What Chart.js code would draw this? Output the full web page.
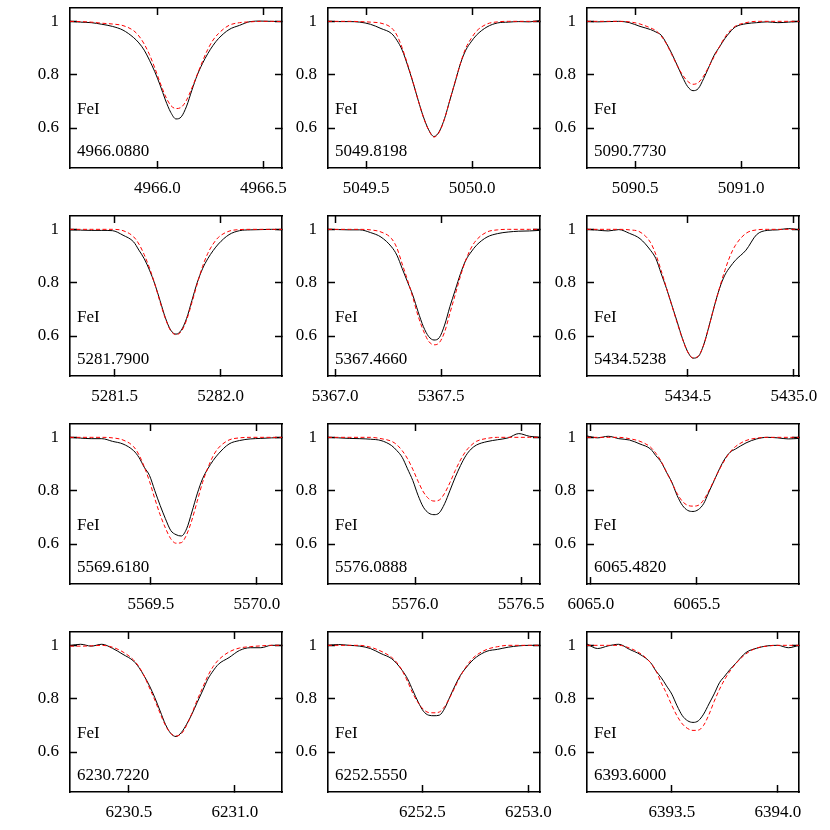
<!DOCTYPE html>
<html lang="en">
<head>
<meta charset="UTF-8">
<title>FeI line profiles</title>
<script src="https://cdn.jsdelivr.net/npm/chart.js"></script>
<style>
  html, body { margin: 0; padding: 0; background: #fff; overflow: hidden; }
  #grid { position: relative; width: 830px; height: 830px; }
  #grid canvas { position: absolute; }
</style>
</head>
<body>
<div id="grid"></div>
<script>
// wavelength offsets from the line centre (Angstrom), shared by every panel
const offsets = [-0.5, -0.45, -0.4, -0.35, -0.3, -0.25, -0.2, -0.175, -0.15, -0.125, -0.1, -0.075, -0.05, -0.025,
  0, 0.025, 0.05, 0.075, 0.1, 0.125, 0.15, 0.175, 0.2, 0.25, 0.3, 0.35, 0.4, 0.45, 0.5];

const centers = [4966.0880, 5049.8198, 5090.7730, 5281.7900, 5367.4660, 5434.5238,
  5569.6180, 5576.0888, 6065.4820, 6230.7220, 6252.5550, 6393.6000];
const ion = 'FeI';

const xTicks = [[4966.0, 4966.5], [5049.5, 5050.0], [5090.5, 5091.0], [5281.5, 5282.0],
  [5367.0, 5367.5], [5434.5, 5435.0], [5569.5, 5570.0], [5576.0, 5576.5],
  [6065.0, 6065.5], [6230.5, 6231.0], [6252.5, 6253.0], [6393.5, 6394.0]];
const yTicks = [0.6, 0.8, 1.0];
const yTickLabels = ['0.6', '0.8', '1'];

// observed spectrum (black)
const obs4966 = [1.0, 0.997, 0.995, 0.989, 0.981, 0.967, 0.939, 0.919, 0.892, 0.854, 0.811, 0.761, 0.705, 0.659, 0.634, 0.642, 0.682, 0.742, 0.798, 0.842, 0.879, 0.91, 0.935, 0.969, 0.985, 0.999, 1.001, 1.0, 0.999];
const obs5049 = [1.0, 0.999, 0.999, 0.997, 0.989, 0.973, 0.954, 0.929, 0.892, 0.836, 0.773, 0.705, 0.642, 0.593, 0.568, 0.587, 0.636, 0.705, 0.773, 0.842, 0.892, 0.923, 0.948, 0.979, 0.994, 0.997, 0.999, 0.998, 1.003];
const obs5090 = [1.0, 0.998, 0.999, 1.0, 0.995, 0.981, 0.969, 0.96, 0.948, 0.917, 0.879, 0.836, 0.792, 0.755, 0.74, 0.748, 0.785, 0.829, 0.873, 0.904, 0.935, 0.96, 0.979, 0.991, 0.995, 0.998, 0.995, 0.997, 1.0];
const obs5281 = [0.998, 0.997, 0.996, 0.996, 0.995, 0.978, 0.953, 0.922, 0.89, 0.847, 0.795, 0.732, 0.668, 0.622, 0.607, 0.622, 0.666, 0.733, 0.8, 0.852, 0.89, 0.92, 0.945, 0.98, 0.995, 0.998, 0.999, 1.0, 0.998];
const obs5367 = [1.0, 0.999, 0.998, 0.998, 0.988, 0.971, 0.934, 0.903, 0.853, 0.803, 0.753, 0.691, 0.635, 0.598, 0.585, 0.594, 0.641, 0.71, 0.772, 0.834, 0.884, 0.915, 0.94, 0.971, 0.984, 0.99, 0.993, 0.994, 0.996];
const obs5434 = [1.0, 0.997, 0.994, 0.999, 0.985, 0.965, 0.921, 0.89, 0.834, 0.778, 0.716, 0.654, 0.591, 0.541, 0.517, 0.523, 0.566, 0.635, 0.71, 0.778, 0.828, 0.859, 0.884, 0.922, 0.98, 0.996, 0.998, 1.003, 0.998];
const obs5569 = [1.0, 0.997, 0.995, 0.995, 0.985, 0.975, 0.95, 0.925, 0.888, 0.857, 0.8, 0.745, 0.695, 0.651, 0.635, 0.63, 0.657, 0.72, 0.788, 0.844, 0.882, 0.913, 0.938, 0.975, 0.988, 0.994, 0.996, 0.998, 0.999];
const obs5576 = [1.0, 0.998, 0.996, 0.995, 0.993, 0.988, 0.969, 0.95, 0.925, 0.882, 0.838, 0.782, 0.738, 0.716, 0.71, 0.717, 0.751, 0.8, 0.85, 0.894, 0.931, 0.956, 0.971, 0.984, 0.991, 0.998, 1.014, 1.004, 1.0];
const obs6065 = [1.005, 0.998, 1.004, 0.995, 0.99, 0.975, 0.956, 0.931, 0.907, 0.869, 0.832, 0.782, 0.745, 0.726, 0.722, 0.729, 0.751, 0.795, 0.838, 0.882, 0.919, 0.944, 0.956, 0.979, 0.994, 1.0, 0.998, 0.994, 0.996];
const obs6230 = [0.999, 1.004, 0.997, 1.004, 0.989, 0.966, 0.941, 0.917, 0.885, 0.848, 0.804, 0.754, 0.704, 0.67, 0.658, 0.673, 0.704, 0.742, 0.786, 0.829, 0.873, 0.904, 0.929, 0.954, 0.981, 0.991, 0.991, 1.0, 1.0];
const obs6252 = [1.0, 1.003, 1.0, 0.997, 0.988, 0.969, 0.95, 0.931, 0.906, 0.875, 0.831, 0.788, 0.753, 0.738, 0.736, 0.738, 0.763, 0.807, 0.85, 0.888, 0.915, 0.938, 0.956, 0.978, 0.985, 0.993, 0.998, 1.0, 1.0];
const obs6393 = [1.005, 0.988, 0.998, 1.004, 0.985, 0.966, 0.935, 0.904, 0.879, 0.848, 0.817, 0.773, 0.736, 0.717, 0.711, 0.717, 0.742, 0.78, 0.818, 0.86, 0.885, 0.91, 0.931, 0.973, 0.989, 0.998, 1.0, 0.991, 1.0];

// synthetic fit (red dashed)
const fit4966 = [1.0, 0.999, 0.997, 0.993, 0.99, 0.984, 0.965, 0.945, 0.915, 0.875, 0.825, 0.77, 0.72, 0.685, 0.673, 0.678, 0.705, 0.75, 0.8, 0.85, 0.895, 0.93, 0.954, 0.985, 0.995, 0.998, 1.0, 1.0, 0.999];
const fit5049 = [1.0, 1.0, 1.0, 0.999, 0.997, 0.993, 0.975, 0.948, 0.9, 0.84, 0.775, 0.705, 0.64, 0.592, 0.566, 0.585, 0.635, 0.705, 0.775, 0.843, 0.9, 0.935, 0.963, 0.99, 0.998, 1.0, 1.0, 1.0, 1.0];
const fit5090 = [1.0, 1.0, 1.0, 1.0, 0.998, 0.99, 0.975, 0.965, 0.945, 0.915, 0.875, 0.835, 0.8, 0.775, 0.764, 0.77, 0.795, 0.83, 0.868, 0.905, 0.94, 0.965, 0.982, 0.995, 1.0, 1.0, 1.0, 1.0, 1.0];
const fit5281 = [1.0, 1.0, 1.0, 1.0, 1.0, 0.995, 0.972, 0.945, 0.905, 0.855, 0.795, 0.727, 0.665, 0.62, 0.605, 0.617, 0.66, 0.725, 0.795, 0.86, 0.91, 0.945, 0.97, 0.993, 0.999, 1.0, 1.0, 1.0, 1.0];
const fit5367 = [1.0, 1.0, 1.0, 1.0, 0.998, 0.99, 0.965, 0.93, 0.87, 0.81, 0.745, 0.675, 0.62, 0.58, 0.567, 0.575, 0.615, 0.685, 0.755, 0.825, 0.885, 0.93, 0.96, 0.99, 0.998, 1.0, 1.0, 1.0, 1.0];
const fit5434 = [1.0, 1.0, 1.0, 1.0, 0.998, 0.99, 0.95, 0.905, 0.845, 0.78, 0.715, 0.65, 0.59, 0.54, 0.518, 0.525, 0.565, 0.635, 0.71, 0.78, 0.845, 0.9, 0.94, 0.985, 0.998, 1.0, 1.0, 1.0, 1.0];
const fit5569 = [1.0, 1.0, 1.0, 1.0, 0.998, 0.99, 0.965, 0.935, 0.89, 0.835, 0.77, 0.71, 0.66, 0.62, 0.603, 0.605, 0.635, 0.69, 0.76, 0.83, 0.885, 0.93, 0.96, 0.99, 0.998, 1.0, 1.0, 1.0, 1.0];
const fit5576 = [1.0, 1.0, 1.0, 1.0, 1.0, 0.995, 0.985, 0.972, 0.95, 0.92, 0.88, 0.835, 0.795, 0.77, 0.761, 0.765, 0.79, 0.83, 0.875, 0.915, 0.948, 0.97, 0.985, 0.996, 1.0, 1.0, 1.0, 1.0, 1.0];
const fit6065 = [1.0, 1.0, 1.0, 1.0, 0.995, 0.985, 0.963, 0.94, 0.91, 0.87, 0.83, 0.79, 0.76, 0.745, 0.742, 0.745, 0.765, 0.8, 0.84, 0.88, 0.915, 0.945, 0.965, 0.988, 0.997, 1.0, 1.0, 1.0, 1.0];
const fit6230 = [0.997, 0.997, 0.998, 1.0, 0.993, 0.975, 0.945, 0.92, 0.885, 0.84, 0.795, 0.745, 0.7, 0.67, 0.66, 0.668, 0.7, 0.745, 0.795, 0.84, 0.885, 0.92, 0.945, 0.975, 0.99, 0.995, 0.998, 1.0, 1.0];
const fit6252 = [1.0, 1.0, 1.0, 1.0, 0.993, 0.978, 0.955, 0.935, 0.905, 0.865, 0.82, 0.785, 0.76, 0.748, 0.747, 0.75, 0.77, 0.805, 0.845, 0.885, 0.918, 0.945, 0.963, 0.985, 0.995, 1.0, 1.0, 1.0, 1.0];
const fit6393 = [1.0, 1.0, 1.0, 1.0, 0.99, 0.97, 0.935, 0.905, 0.86, 0.82, 0.775, 0.735, 0.705, 0.688, 0.681, 0.682, 0.7, 0.74, 0.79, 0.835, 0.873, 0.904, 0.93, 0.968, 0.99, 0.997, 1.0, 1.0, 1.0];

const observed = [obs4966, obs5049, obs5090, obs5281, obs5367, obs5434, obs5569, obs5576, obs6065, obs6230, obs6252, obs6393];
const fitted = [fit4966, fit5049, fit5090, fit5281, fit5367, fit5434, fit5569, fit5576, fit6065, fit6230, fit6252, fit6393];

// panel layout (plot-area corners in page pixels)
const plotLefts = [70, 328, 587];
const plotTops = [8, 216, 424, 632];
const PW = 212, PH = 160;
const PADL = 70, PADT = 8, PADR = 40, PADB = 40;

const tickFont = { family: '"Liberation Serif", "Times New Roman", serif', size: 17 };

const labelPlugin = {
    id: 'lineLabel',
    afterDatasetsDraw(chart, args, opts) {
        const { ctx, chartArea } = chart;
        ctx.save();
        ctx.font = '17px "Liberation Serif", "Times New Roman", serif';
        ctx.fillStyle = '#000';
        ctx.textBaseline = 'alphabetic';
        ctx.textAlign = 'left';
        ctx.fillText(opts.ion, chartArea.left + 7, chartArea.top + 106);
        ctx.fillText(opts.wave, chartArea.left + 7, chartArea.top + 148);
        ctx.restore();
    }
};

function gridOpts() {
    return { display: true, drawOnChartArea: false, drawTicks: true, tickLength: -7, tickWidth: 1.5, tickColor: '#000' };
}

function xScale(i, position, showLabels) {
    return {
        type: 'linear',
        position: position,
        min: centers[i] - 0.5,
        max: centers[i] + 0.5,
        bounds: 'data',
        afterBuildTicks: s => { s.ticks = xTicks[i].map(v => ({ value: v })); },
        afterFit: s => { s.height = showLabels ? PADB : 0; s.paddingLeft = 0; s.paddingRight = 0; },
        ticks: {
            display: showLabels, autoSkip: false, maxRotation: 0, padding: 17,
            color: '#000', font: tickFont,
            callback: v => v.toFixed(1)
        },
        grid: gridOpts(),
        border: { display: true, color: '#000', width: 1.6 }
    };
}

function yScale(position, showLabels) {
    return {
        type: 'linear',
        position: position,
        min: 0.45,
        max: 1.05,
        bounds: 'data',
        afterBuildTicks: s => { s.ticks = yTicks.map(v => ({ value: v })); },
        afterFit: s => { s.width = showLabels ? PADL : 0; s.paddingTop = 0; s.paddingBottom = 0; },
        ticks: {
            display: showLabels, autoSkip: false, padding: 18,
            color: '#000', font: tickFont,
            callback: (v, k) => yTickLabels[k]
        },
        grid: gridOpts(),
        border: { display: true, color: '#000', width: 1.6 }
    };
}

const grid = document.getElementById('grid');

centers.forEach((c, i) => {
    const col = i % 3, row = Math.floor(i / 3);
    const canvas = document.createElement('canvas');
    canvas.width = PADL + PW + PADR;
    canvas.height = PADT + PH + PADB;
    canvas.style.left = (plotLefts[col] - PADL) + 'px';
    canvas.style.top = (plotTops[row] - PADT) + 'px';
    grid.appendChild(canvas);

    new Chart(canvas.getContext('2d'), {
        type: 'line',
        data: {
            datasets: [
                {
                    label: 'fit',
                    data: offsets.map((d, k) => ({ x: c + d, y: fitted[i][k] })),
                    borderColor: '#ff0000',
                    borderWidth: 1,
                    borderDash: [4, 2.5],
                    pointRadius: 0,
                    cubicInterpolationMode: 'monotone',
                    order: 0,
                    xAxisID: 'x',
                    yAxisID: 'y'
                },
                {
                    label: 'observed',
                    data: offsets.map((d, k) => ({ x: c + d, y: observed[i][k] })),
                    borderColor: '#000',
                    borderWidth: 1,
                    pointRadius: 0,
                    cubicInterpolationMode: 'monotone',
                    order: 1,
                    xAxisID: 'x',
                    yAxisID: 'y'
                }
            ]
        },
        options: {
            responsive: false,
            animation: false,
            devicePixelRatio: 1,
            layout: { autoPadding: false, padding: { left: 0, top: PADT, right: PADR, bottom: 0 } },
            scales: {
                x: xScale(i, 'bottom', true),
                x2: xScale(i, 'top', false),
                y: yScale('left', true),
                y2: yScale('right', false)
            },
            plugins: {
                legend: { display: false },
                tooltip: { enabled: false },
                lineLabel: { ion: ion, wave: c.toFixed(4) }
            }
        },
        plugins: [labelPlugin]
    });
});
</script>
</body>
</html>
